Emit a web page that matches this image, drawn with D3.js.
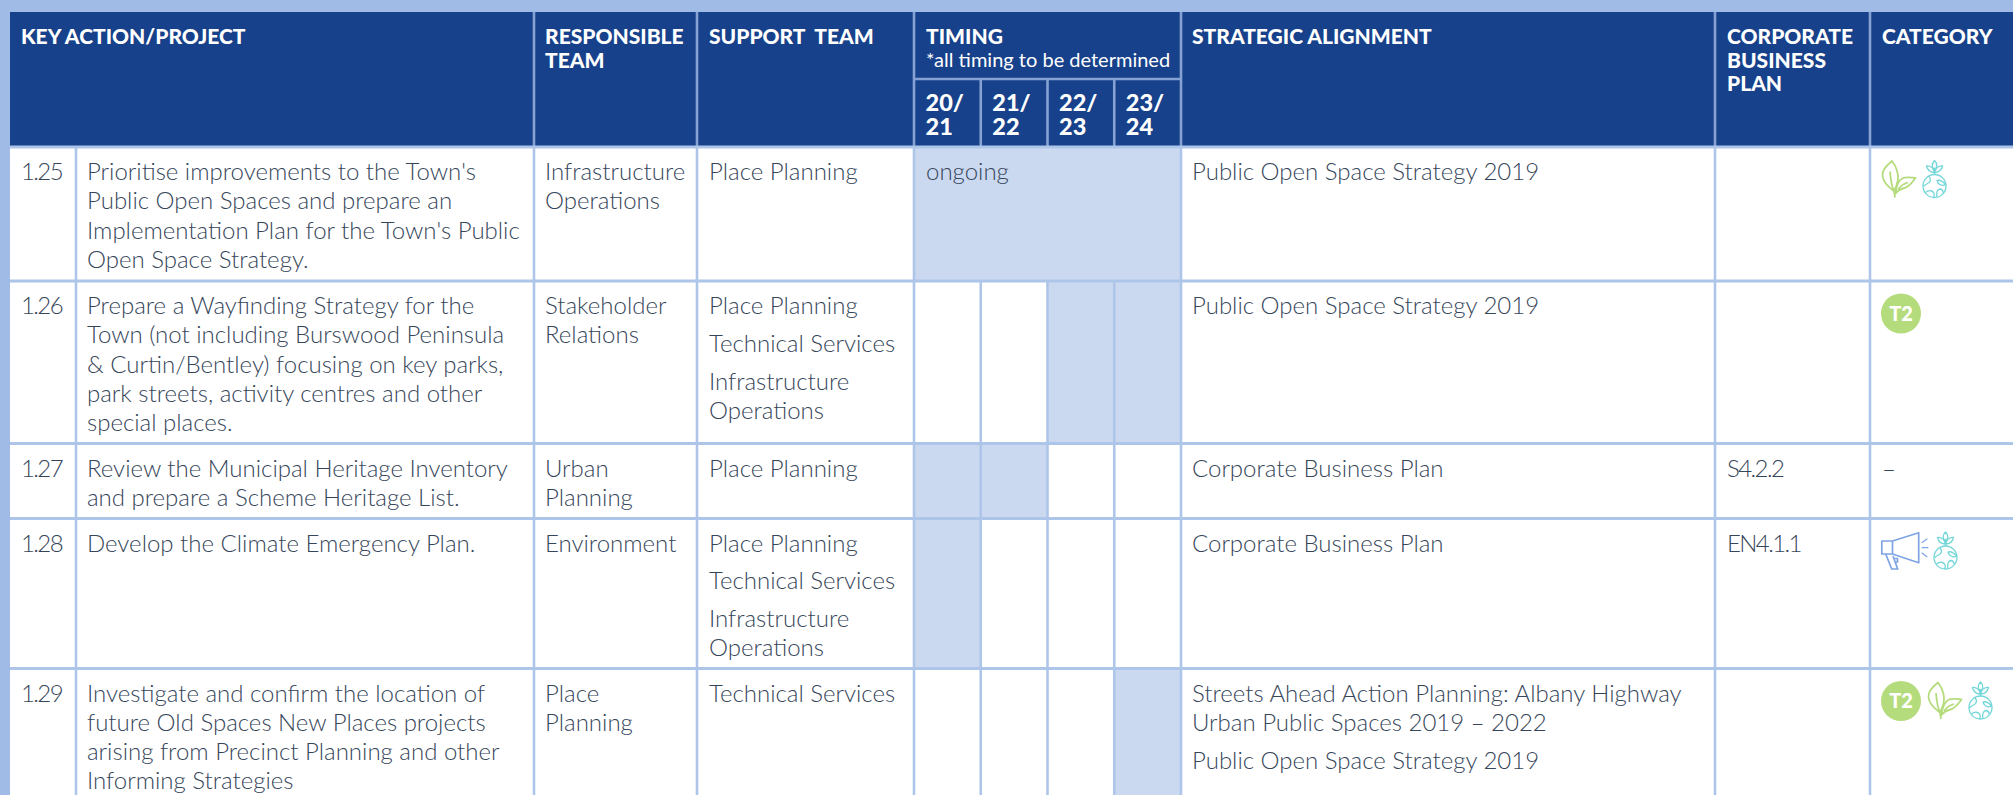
<!DOCTYPE html>
<html>
<head>
<meta charset="utf-8">
<script src="https://cdn.jsdelivr.net/npm/d3@7"></script>
<style>
  html, body { margin: 0; padding: 0; background: #a0bbe6; overflow: hidden; }
  svg { display: block; }
  text { font-family: "Lato", sans-serif; }
  .cell { font-size: 24px; font-weight: 300; fill: #36465a; }
  .tight { letter-spacing: -1.6px; }
  .head { font-size: 21px; font-weight: 900; fill: #fff; }
  .year { font-size: 23.5px; }
</style>
</head>
<body>
<svg id="chart" width="2013" height="795"></svg>
<script>
// -------- DATA --------
const columns = ["num", "action", "responsible", "support", "timing", "strategic", "corporate", "category"];
const years = [["20/", "21"], ["21/", "22"], ["22/", "23"], ["23/", "24"]];
const yearKeys = ["20/21", "21/22", "22/23", "23/24"];

const headers = [
  ["num", ["KEY ACTION/PROJECT"]],
  ["responsible", ["RESPONSIBLE", "TEAM"]],
  ["support", ["SUPPORT  TEAM"]],
  ["timing", ["TIMING"]],
  ["strategic", ["STRATEGIC ALIGNMENT"]],
  ["corporate", ["CORPORATE", "BUSINESS", "PLAN"]],
  ["category", ["CATEGORY"]]
];
const timingNote = "*all timing to be determined";

const rowIds = ["1.25", "1.26", "1.27", "1.28", "1.29"];
const actions = [
  ["Prioritise improvements to the Town's", "Public Open Spaces and prepare an", "Implementation Plan for the Town's Public", "Open Space Strategy."],
  ["Prepare a Wayfinding Strategy for the", "Town (not including Burswood Peninsula", "& Curtin/Bentley) focusing on key parks,", "park streets, activity centres and other", "special places."],
  ["Review the Municipal Heritage Inventory", "and prepare a Scheme Heritage List."],
  ["Develop the Climate Emergency Plan."],
  ["Investigate and confirm the location of", "future Old Spaces New Places projects", "arising from Precinct Planning and other", "Informing Strategies"]
];
const responsible = [
  ["Infrastructure", "Operations"],
  ["Stakeholder", "Relations"],
  ["Urban", "Planning"],
  ["Environment"],
  ["Place", "Planning"]
];
// each inner array is one paragraph
const support = [
  [["Place Planning"]],
  [["Place Planning"], ["Technical Services"], ["Infrastructure", "Operations"]],
  [["Place Planning"]],
  [["Place Planning"], ["Technical Services"], ["Infrastructure", "Operations"]],
  [["Technical Services"]]
];
const timing = [
  ["20/21", "21/22", "22/23", "23/24"],
  ["22/23", "23/24"],
  ["20/21", "21/22"],
  ["20/21"],
  ["23/24"]
];
const timingLabels = ["ongoing", "", "", "", ""];
const mergedTiming = ["1.25"];
const strategic = [
  [["Public Open Space Strategy 2019"]],
  [["Public Open Space Strategy 2019"]],
  [["Corporate Business Plan"]],
  [["Corporate Business Plan"]],
  [["Streets Ahead Action Planning: Albany Highway", "Urban Public Spaces 2019 – 2022"], ["Public Open Space Strategy 2019"]]
];
const corporate = ["", "", "S4.2.2", "EN4.1.1", ""];
const categories = [
  ["leaf", "globe"],
  ["t2"],
  [],
  ["megaphone", "globe"],
  ["t2", "leaf", "globe"]
];

// -------- LAYOUT --------
const W = 2013, H = 795;
const tableLeft = 10, tableTop = 12, headBottom = 147, timingSplit = 79;
const LINE_H = 29.3, PARA_GAP = 8.5;

const colX = d3.scaleOrdinal(columns, [10, 76, 534, 697, 914, 1181, 1715, 1870]);
const textX = d3.scaleOrdinal(columns, [21, 87, 545, 709, 926, 1192, 1727, 1882]);
const rowY = d3.scaleOrdinal(rowIds, [147, 281, 443.5, 518.5, 668.5]);
const rowEnd = d3.scaleOrdinal(rowIds, [281, 443.5, 518.5, 668.5, 795]);
const yearX = d3.scaleBand().domain(yearKeys).range([914, 1181]);

const HEAD_BLUE = "#17418a", LINE = "#aec5ea", LINE_HEAD = "#86a2d2", FILL = "#cbd9f0";
const GREEN = "#b5dc7c", TEAL = "#72d6d8", BLUE_ICON = "#7ea4e4";

const svg = d3.select("#chart");

// -------- TABLE BODY --------
svg.append("rect").attr("x", tableLeft).attr("y", tableTop)
  .attr("width", W - tableLeft).attr("height", H - tableTop).attr("fill", "#fff");

svg.append("rect").attr("x", tableLeft).attr("y", tableTop)
  .attr("width", W - tableLeft).attr("height", headBottom - tableTop).attr("fill", HEAD_BLUE);

// timing fills
rowIds.forEach((id, i) => {
  svg.append("g").attr("shape-rendering", "crispEdges").selectAll("rect")
    .data(timing[i])
    .enter()
    .append("rect")
    .attr("x", d => yearX(d))
    .attr("y", rowY(id))
    .attr("width", yearX.bandwidth())
    .attr("height", rowEnd(id) - rowY(id))
    .attr("fill", FILL);
});

// -------- GRID LINES --------
function vline(x, y1, y2, color) {
  svg.append("line").attr("x1", x).attr("x2", x).attr("y1", y1).attr("y2", y2)
    .attr("stroke", color).attr("stroke-width", 2.6);
}
function hline(x1, x2, y, color, sw) {
  svg.append("line").attr("x1", x1).attr("x2", x2).attr("y1", y).attr("y2", y)
    .attr("stroke", color).attr("stroke-width", sw);
}

["responsible", "support", "timing", "strategic", "corporate", "category"].forEach(c => {
  vline(colX(c), tableTop, headBottom, LINE_HEAD);
  vline(colX(c), headBottom, H, LINE);
});
vline(colX("action"), headBottom, H, LINE);
yearKeys.slice(1).forEach(y => {
  vline(yearX(y), timingSplit, headBottom, LINE_HEAD);
  rowIds.forEach(id => {
    if (!mergedTiming.includes(id)) vline(yearX(y), rowY(id), rowEnd(id), LINE);
  });
});
hline(colX("timing"), colX("strategic"), timingSplit, LINE_HEAD, 2.6);
rowIds.forEach(id => hline(tableLeft, W, rowY(id), LINE, 3));

// -------- HEADER TEXT --------
headers.forEach(([col, lines]) => {
  svg.append("g").selectAll("text")
    .data(lines)
    .enter()
    .append("text")
    .attr("class", "head")
    .attr("x", textX(col))
    .attr("y", (d, i) => 44 + i * 23.5)
    .attr("xml:space", "preserve")
    .text(d => d);
});
svg.append("text")
  .attr("x", textX("timing")).attr("y", 67)
  .attr("fill", "#fff").attr("font-size", 20).attr("font-weight", 400)
  .text(timingNote);
yearKeys.forEach((key, i) => {
  // one text per year, wrapped with tspans
  svg.append("text")
    .attr("class", "head year")
    .selectAll("tspan")
    .data(years[i])
    .enter()
    .append("tspan")
    .attr("x", yearX(key) + 11.5)
    .attr("y", (d, j) => 111 + j * 23.5)
    .text(d => d);
});

// -------- CELL TEXT --------
function cellText(x, top, paragraphs, cls) {
  let y = top + 33;
  paragraphs.forEach(lines => {
    lines.forEach(line => {
      svg.append("text").attr("class", cls || "cell").attr("x", x).attr("y", y).text(line);
      y += LINE_H;
    });
    y += PARA_GAP;
  });
}

rowIds.forEach((id, i) => {
  const top = rowY(id);
  cellText(textX("num"), top, [[id]], "cell tight");
  cellText(textX("action"), top, [actions[i]]);
  cellText(textX("responsible"), top, [responsible[i]]);
  cellText(textX("support"), top, support[i]);
  if (timingLabels[i]) cellText(textX("timing"), top, [[timingLabels[i]]]);
  cellText(textX("strategic"), top, strategic[i]);
  if (corporate[i]) cellText(textX("corporate"), top, [[corporate[i]]], "cell tight");
  if (categories[i].length === 0) cellText(textX("category"), top, [["–"]]);
});

// -------- CATEGORY ICONS --------
const iconAdvance = { t2: 46, leaf: 42, globe: 30, megaphone: 53 };

function drawLeaf(g) {
  g.attr("fill", "none").attr("stroke", GREEN).attr("stroke-width", 1.8).attr("stroke-linejoin", "round");
  g.append("path").attr("d", "M11 0.5C4 6 1 10 1.5 15C2 22 8 27 13 30.5C16.5 24 18 18 16.5 12C15.5 7 13 3 11 0.5Z");
  g.append("path").attr("d", "M9 11C9.5 18 10 24 13 30.5L14 37");
  g.append("path").attr("d", "M14.5 33C15 27 17 20 22 17.5C26 16 30 17 34.5 17.5C31 22 28 27 22 28C19 28.5 17 30 14.5 33Z");
  g.append("path").attr("d", "M17 29C20 25 23 23 27 22");
}

function drawGlobe(g) {
  g.attr("fill", "none").attr("stroke", TEAL).attr("stroke-width", 1.3).attr("stroke-linejoin", "round");
  g.append("circle").attr("cx", 11.5).attr("cy", 25.5).attr("r", 11.5);
  g.append("path").attr("d", "M11.5 14V7");
  g.append("path").attr("d", "M11.5 9C8.5 7 8.5 3 11.5 0C14.5 3 14.5 7 11.5 9Z");
  g.append("path").attr("d", "M11.5 12C7.5 12 4.5 9.5 3.5 5.5C7.5 5 10.5 8 11.5 12Z");
  g.append("path").attr("d", "M11.5 12C15.5 12 18.5 9.5 19.5 5.5C15.5 5 12.5 8 11.5 12Z");
  g.append("path").attr("d", "M6 16C9 19 7 22 4.5 23C2.5 24 1 25 0.5 26");
  g.append("path").attr("d", "M14 20C17 19 20 21 22.5 24C19 26 15 24 14 20Z");
  g.append("path").attr("d", "M2.5 32C6 29 10 30 11 33C11.5 34 11 36 10.5 37");
  g.append("path").attr("d", "M14 36.5C13 33 14 29 17 28.5C19 28.5 20 30 20.5 33");
}

function drawMegaphone(g) {
  g.attr("fill", "none").attr("stroke", BLUE_ICON).attr("stroke-width", 1.7).attr("stroke-linejoin", "round");
  g.append("path").attr("d", "M0.8 9H11.5V22H0.8Z");
  g.append("path").attr("d", "M11.5 9L37.7 0.8V30.7L11.5 22");
  g.append("path").attr("d", "M4.7 22L10.7 37H16.7L12 24");
  g.append("path").attr("d", "M13.5 26.5H16.5V30H14.8");
  g.append("path").attr("stroke-width", 1.2).attr("d", "M40.7 10.7L46.3 6.7M40.7 15.7H47.3M40.7 20.7L46.3 25");
}

function drawT2(g) {
  g.append("circle").attr("cx", 20).attr("cy", 19).attr("r", 20).attr("fill", GREEN);
  g.append("text").attr("x", 20).attr("y", 26).attr("text-anchor", "middle")
    .attr("fill", "#fff").attr("font-size", 20).attr("font-weight", 900).text("T2");
}

const iconDraw = { t2: drawT2, leaf: drawLeaf, globe: drawGlobe, megaphone: drawMegaphone };

rowIds.forEach((id, i) => {
  let x = textX("category") - 1;
  categories[i].forEach(name => {
    const g = svg.append("g").attr("transform", `translate(${x},${rowY(id) + 13.5})`);
    iconDraw[name](g);
    x += iconAdvance[name];
  });
});
</script>
</body>
</html>
